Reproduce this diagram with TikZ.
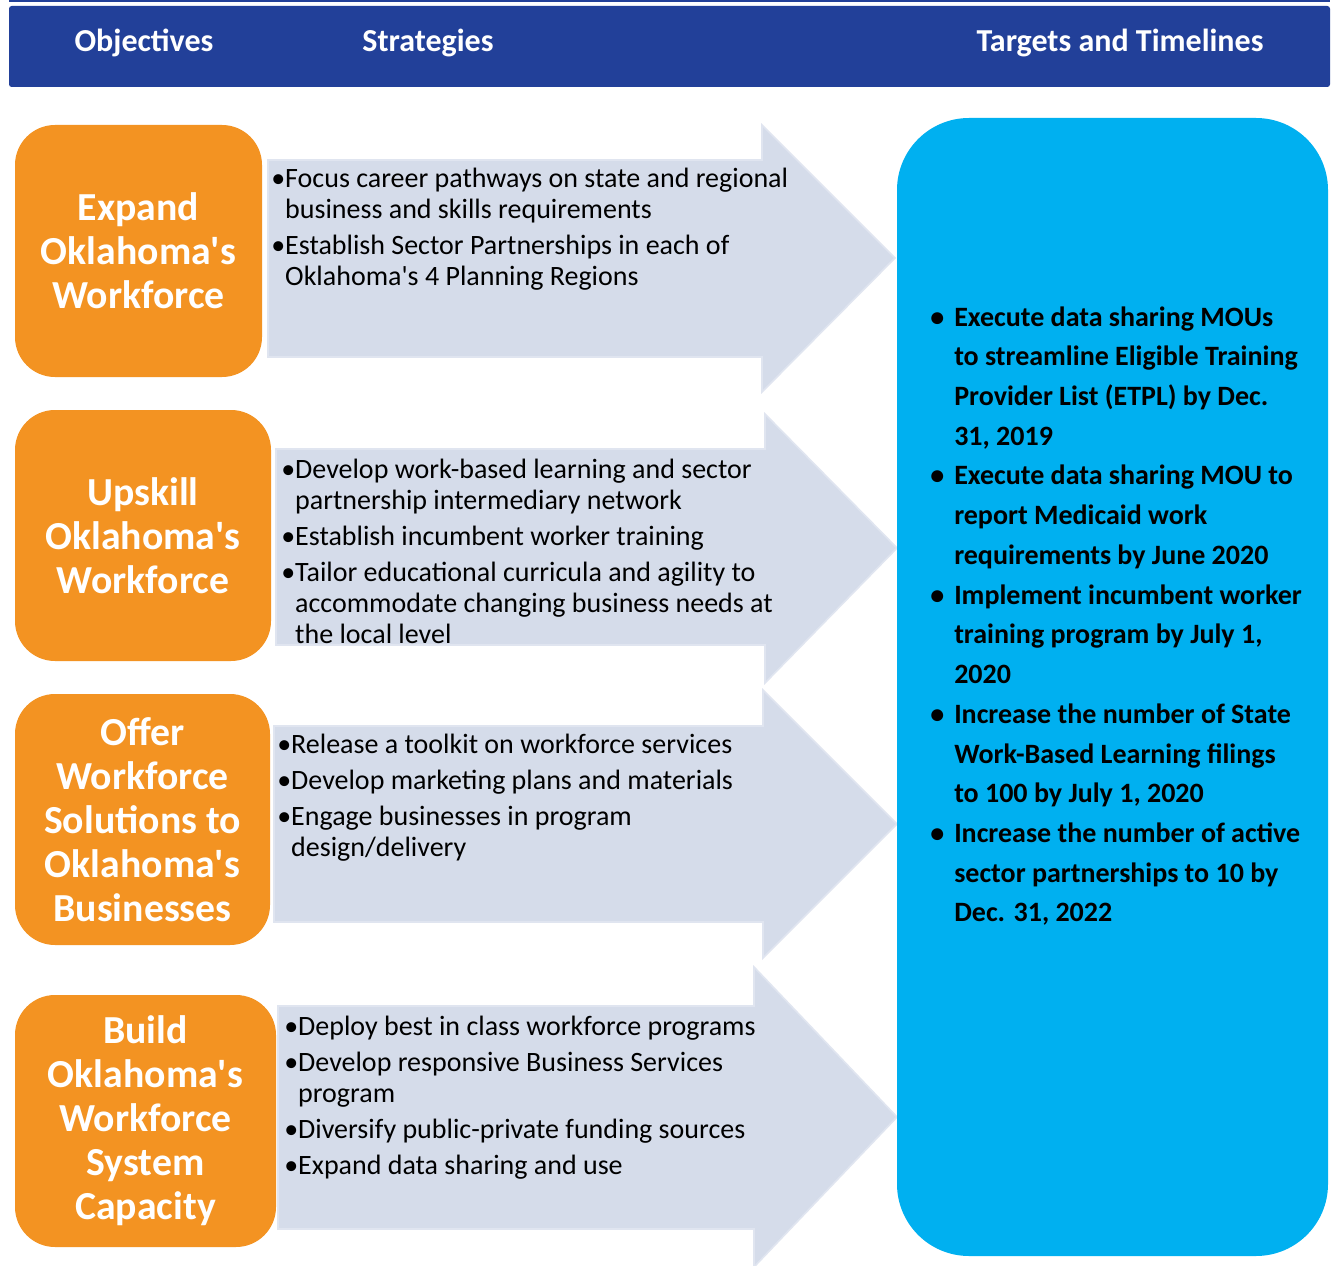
\documentclass[tikz,border=0pt]{standalone}
\usepackage{fontspec}
\setmainfont{Carlito}
\usetikzlibrary{shapes}
\usetikzlibrary{calc,positioning}

\definecolor{hdrblue}{RGB}{34,64,153}
\definecolor{objorange}{RGB}{243,147,34}
\definecolor{arrowgrey}{RGB}{213,220,234}
\definecolor{arrowedge}{RGB}{224,229,240}
\definecolor{tgtblue}{RGB}{0,176,240}

\begin{document}
\begin{tikzpicture}[x=0.75pt, y=-0.75pt,
  objbox/.style = {rounded corners=30pt, fill=objorange, text=white, align=center, inner sep=0, font=\fontsize{29.8}{33}\selectfont\bfseries},
  hdrtext/.style = {text=white, anchor=base, inner sep=0, font=\fontsize{24}{28}\selectfont\bfseries},
  strat/.style = {anchor=base west, inner sep=0, font=\fontsize{21}{23.25}\selectfont},
  stratarrow/.style = {fill=arrowgrey, draw=arrowedge, line width=1.2pt},
  tgttext/.style = {anchor=base west, inner sep=0, font=\fontsize{21}{29.8}\selectfont\bfseries}]

\useasboundingbox (0,0) rectangle (1335,1266);
\fill[white] (0,0) rectangle (1335,1266);

% header
\fill[hdrblue] (9,0) rectangle (1330,2.5);
\node[fill=hdrblue, rounded corners=2pt, inner sep=0, minimum width=990.75pt, minimum height=60.75pt] (hdr) at (669.5,46.5) {};
\node[hdrtext] (objlbl) at (144,52) {Objectives};
\node[hdrtext] (stratlbl) at (428,52) {Strategies};
\node[hdrtext] (tgtlbl) at (1120,52) {Targets and Timelines};

% arrows
\fill[stratarrow] (268,160) -- (762,160) -- (762,125) -- (895,258) -- (762,392) -- (762,357) -- (268,357) -- cycle;
\fill[stratarrow] (276,449) -- (765,449) -- (765,414) -- (897,548) -- (765,683) -- (765,645) -- (276,645) -- cycle;
\fill[stratarrow] (274,726) -- (763,726) -- (763,690) -- (897,824) -- (763,958) -- (763,922) -- (274,922) -- cycle;
\fill[stratarrow] (278,1006) -- (754,1006) -- (754,967) -- (897,1117) -- (754,1267) -- (754,1229) -- (278,1229) -- cycle;

% objectives
\node[objbox, minimum width=185.25pt, minimum height=189pt] (obj1) at (138.5,251) {Expand\\Oklahoma\textquotesingle s\\Workforce};
\node[objbox, minimum width=192pt, minimum height=188.25pt] (obj2) at (143,535.5) {Upskill\\Oklahoma\textquotesingle s\\Workforce};
\node[objbox, minimum width=191.25pt, minimum height=188.25pt] (obj3) at (142.5,819.5) {Offer\\Workforce\\Solutions to\\Oklahoma\textquotesingle s\\Businesses};
\node[objbox, minimum width=195.75pt, minimum height=189pt] (obj4) at (145.5,1121) {Build\\Oklahoma\textquotesingle s\\Workforce\\System\\Capacity};

% targets
\node[fill=tgtblue, rounded corners=54pt, inner sep=0, minimum width=323.25pt, minimum height=853.5pt] (tgt) at (1112.5,687) {};

% strategies
\node[strat] (strat1) at (271,188) {\begin{tabular}[t]{@{}l@{}l@{}}
\textbullet & Focus career pathways on state and regional\\
 & business and skills requirements\\[3.75pt]
\textbullet & Establish Sector Partnerships in each of\\
 & Oklahoma\textquotesingle s 4 Planning Regions
\end{tabular}};
\node[strat] (strat2) at (281,478) {\begin{tabular}[t]{@{}l@{}l@{}}
\textbullet & Develop work-based learning and sector\\
 & partnership intermediary network\\[3.75pt]
\textbullet & Establish incumbent worker training\\[3.75pt]
\textbullet & Tailor educational curricula and agility to\\
 & accommodate changing business needs at\\
 & the local level
\end{tabular}};
\node[strat] (strat3) at (277,753) {\begin{tabular}[t]{@{}l@{}l@{}}
\textbullet & Release a toolkit on workforce services\\[3.75pt]
\textbullet & Develop marketing plans and materials\\[3.75pt]
\textbullet & Engage businesses in program\\
 & design/delivery
\end{tabular}};
\node[strat] (strat4) at (284,1035) {\begin{tabular}[t]{@{}l@{}l@{}}
\textbullet & Deploy best in class workforce programs\\[3.75pt]
\textbullet & Develop responsive Business Services\\
 & program\\[3.75pt]
\textbullet & Diversify public-private funding sources\\[3.75pt]
\textbullet & Expand data sharing and use
\end{tabular}};

\node[tgttext] (tgtlist) at (930,326) {\begin{tabular}[t]{@{}l@{}l@{}}
\makebox[18pt][l]{\textbullet} & Execute data sharing MOUs\\
 & to streamline Eligible Training\\
 & Provider List (ETPL) by Dec.\\
 & 31, 2019\\
\makebox[18pt][l]{\textbullet} & Execute data sharing MOU to\\
 & report Medicaid work\\
 & requirements by June 2020\\
\makebox[18pt][l]{\textbullet} & Implement incumbent worker\\
 & training program by July 1,\\
 & 2020\\
\makebox[18pt][l]{\textbullet} & Increase the number of State\\
 & Work-Based Learning filings\\
 & to 100 by July 1, 2020\\
\makebox[18pt][l]{\textbullet} & Increase the number of active\\
 & sector partnerships to 10 by\\
 & Dec. 31, 2022
\end{tabular}};

\end{tikzpicture}
\end{document}
